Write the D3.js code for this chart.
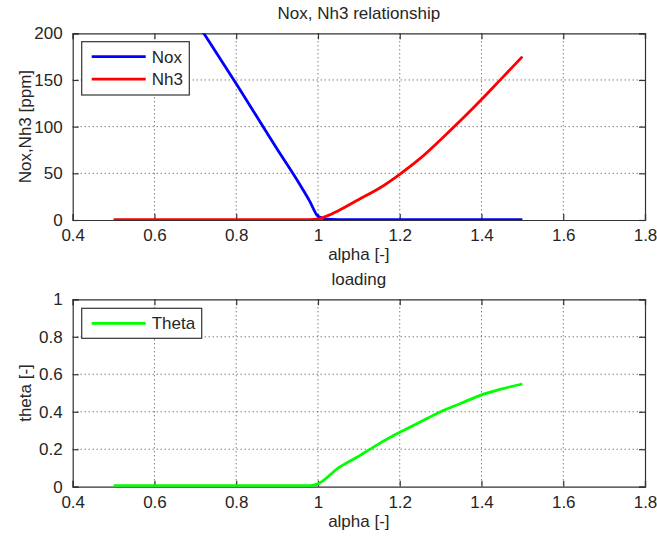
<!DOCTYPE html>
<html><head><meta charset="utf-8">
<script src="https://cdn.jsdelivr.net/npm/d3@7"></script>
<style>
html,body{margin:0;padding:0;background:#fff;}
svg{display:block;font-family:"Liberation Sans",Arial,sans-serif;}
</style></head>
<body>
<svg id="chart" width="657" height="542"></svg>
<script>
// ---- data ----
const alphaNox = [0.5, 0.6, 0.7, 0.8, 0.9, 0.95, 0.98, 1.0, 1.02, 1.05, 1.1, 1.2, 1.3, 1.4, 1.5];
const noxVals  = [350, 282, 214, 146, 76, 42, 20, 4, 1, 0.5, 0.5, 0.5, 0.5, 0.5, 0.5];
const alphaNh3 = [0.5, 0.6, 0.7, 0.8, 0.9, 0.98, 1.0, 1.02, 1.05, 1.1, 1.15, 1.2, 1.25, 1.3, 1.35, 1.4, 1.45, 1.5];
const nh3Vals  = [0.5, 0.5, 0.5, 0.5, 0.5, 0.5, 1, 4, 10, 22, 34, 49, 66, 86, 107, 129, 152, 175];
const alphaTheta = [0.5, 0.6, 0.7, 0.8, 0.9, 0.98, 1.0, 1.05, 1.1, 1.15, 1.2, 1.25, 1.3, 1.35, 1.4, 1.45, 1.5];
const thetaVals  = [0.005, 0.005, 0.005, 0.005, 0.005, 0.005, 0.015, 0.1, 0.163, 0.23, 0.29, 0.345, 0.4, 0.445, 0.49, 0.522, 0.548];
const xTicks = [0.4, 0.6, 0.8, 1.0, 1.2, 1.4, 1.6, 1.8];
const xTickLabels = ["0.4", "0.6", "0.8", "1", "1.2", "1.4", "1.6", "1.8"];
const yTicksTop = [0, 50, 100, 150, 200];
const yTickLabelsTop = ["0", "50", "100", "150", "200"];
const yTicksBot = [0, 0.2, 0.4, 0.6, 0.8, 1];
const yTickLabelsBot = ["0", "0.2", "0.4", "0.6", "0.8", "1"];

const svg = d3.select("#chart");
const textColor = "#262626";
const fs = 17;

function panel(cfg) {
  const {left, right, top, bottom, yDomain, yTicks, yLabels, title, ylabel, series, legend, id} = cfg;
  const x = d3.scaleLinear().domain([0.4, 1.8]).range([left, right]);
  const y = d3.scaleLinear().domain(yDomain).range([bottom, top]);
  const g = svg.append("g");

  g.append("defs").append("clipPath").attr("id", id)
    .append("rect").attr("x", left).attr("y", top).attr("width", right - left).attr("height", bottom - top);

  // grid
  const grid = g.append("g");
  xTicks.slice(1, -1).forEach(t => {
    grid.append("line").attr("x1", x(t)).attr("x2", x(t)).attr("y1", top).attr("y2", bottom)
      .attr("stroke", "#444").attr("stroke-width", 1).attr("stroke-dasharray", "1,3");
  });
  yTicks.slice(1, -1).forEach(t => {
    grid.append("line").attr("x1", left).attr("x2", right).attr("y1", y(t)).attr("y2", y(t))
      .attr("stroke", "#444").attr("stroke-width", 1).attr("stroke-dasharray", "1,3");
  });

  // axes with inward ticks
  const axB = d3.axisBottom(x).tickValues(xTicks).tickSize(-6).tickPadding(9)
    .tickFormat((d, i) => xTickLabels[i]);
  const axT = d3.axisTop(x).tickValues(xTicks).tickSize(-6).tickFormat("");
  const axL = d3.axisLeft(y).tickValues(yTicks).tickSize(-6).tickPadding(10)
    .tickFormat((d, i) => yLabels[i]);
  const axR = d3.axisRight(y).tickValues(yTicks).tickSize(-6).tickFormat("");
  const style = sel => {
    sel.selectAll("path.domain").attr("stroke", "#333").attr("stroke-width", 1.2);
    sel.selectAll(".tick line").attr("stroke", "#333").attr("stroke-width", 1.2);
    sel.selectAll("text").attr("fill", textColor).attr("font-size", fs)
      .attr("font-family", '"Liberation Sans",Arial,sans-serif');
  };
  g.append("g").attr("transform", `translate(0,${bottom})`).call(axB).call(style);
  g.append("g").attr("transform", `translate(0,${top})`).call(axT).call(style);
  g.append("g").attr("transform", `translate(${left},0)`).call(axL).call(style);
  g.append("g").attr("transform", `translate(${right},0)`).call(axR).call(style);

  // series
  const plot = g.append("g").attr("clip-path", `url(#${id})`);
  series.forEach(s => {
    const line = d3.line().x((d, i) => x(s.xs[i])).y(d => y(d)).curve(d3.curveMonotoneX);
    plot.append("path").datum(s.ys).attr("d", line).attr("fill", "none")
      .attr("stroke", s.color).attr("stroke-width", 2.8).attr("stroke-linejoin", "round");
  });

  // title & labels
  g.append("text").attr("x", (left + right) / 2).attr("y", top - 14).attr("text-anchor", "middle")
    .attr("font-size", fs).attr("fill", textColor).text(title);
  g.append("text").attr("x", (left + right) / 2).attr("y", bottom + 40).attr("text-anchor", "middle")
    .attr("font-size", fs).attr("fill", textColor).text("alpha [-]");
  g.append("text").attr("transform", `translate(31,${(top + bottom) / 2}) rotate(-90)`)
    .attr("text-anchor", "middle").attr("font-size", fs).attr("fill", textColor).text(ylabel);

  // legend
  const lg = g.append("g");
  lg.append("rect").attr("x", legend.x).attr("y", legend.y).attr("width", legend.w).attr("height", legend.h)
    .attr("fill", "#fff").attr("stroke", "#333").attr("stroke-width", 1.2);
  series.forEach((s, i) => {
    const yy = legend.y + 15 + i * 22.5;
    lg.append("line").attr("x1", legend.x + 10).attr("x2", legend.x + 64).attr("y1", yy).attr("y2", yy)
      .attr("stroke", s.color).attr("stroke-width", 2.8);
    lg.append("text").attr("x", legend.x + 70).attr("y", yy + 6).attr("font-size", fs)
      .attr("fill", textColor).text(s.name);
  });
}

panel({
  id: "clipTop", left: 72.7, right: 645, top: 33.3, bottom: 220,
  yDomain: [0, 200], yTicks: yTicksTop, yLabels: yTickLabelsTop,
  title: "Nox, Nh3 relationship", ylabel: "Nox,Nh3 [ppm]",
  series: [
    {name: "Nox", color: "#0000ff", xs: alphaNox, ys: noxVals},
    {name: "Nh3", color: "#ff0000", xs: alphaNh3, ys: nh3Vals}
  ],
  legend: {x: 81.7, y: 41.7, w: 107.6, h: 53.3}
});

panel({
  id: "clipBot", left: 72.7, right: 645, top: 299.3, bottom: 486.7,
  yDomain: [0, 1], yTicks: yTicksBot, yLabels: yTickLabelsBot,
  title: "loading", ylabel: "theta [-]",
  series: [
    {name: "Theta", color: "#00ff00", xs: alphaTheta, ys: thetaVals}
  ],
  legend: {x: 81.7, y: 308.3, w: 120, h: 30}
});
</script>
</body></html>
